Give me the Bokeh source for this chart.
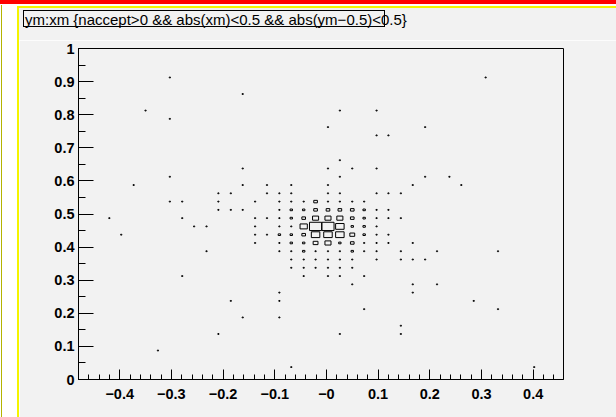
import numpy as np
from bokeh.plotting import figure
from bokeh.layouts import column
from bokeh.models import FixedTicker, ColumnDataSource, Range1d, Div
from bokeh.embed import file_html
from bokeh.resources import INLINE
import html

# ---------------- data (bin centres of the 2D histogram and their contents) ----------------
title_text = "ym:xm {naccept>0 && abs(xm)<0.5 && abs(ym\u22120.5)<0.5}"

xm = [
    -0.303, 0.308,                                   # ym 0.9125
    -0.162,                                          # 0.8625
    -0.350, 0.026, 0.097,                            # 0.8125
    -0.303,                                          # 0.7875
    0.003, 0.191,                                    # 0.7625
    0.097, 0.120,                                    # 0.7375
    0.026,                                           # 0.6625
    -0.162, 0.003, 0.050, 0.097,                     # 0.6375
    -0.303, 0.026, 0.191, 0.238,                     # 0.6125
    -0.373, -0.162, -0.115, -0.068, 0.003, 0.167, 0.261,               # 0.5875
    -0.209, -0.185, -0.115, -0.091, -0.068, 0.003, 0.026, 0.097, 0.120, 0.144,  # 0.5625
    -0.303, -0.279, -0.209, -0.138, -0.091, -0.068, -0.044, -0.021, 0.003, 0.026, 0.050, 0.073,  # 0.5375
    -0.209, -0.185, -0.162, -0.091, -0.068, -0.044, -0.021, 0.003, 0.026, 0.050, 0.073, 0.097, 0.120,  # 0.5125
    -0.420, -0.279, -0.138, -0.115, -0.091, -0.068, -0.044, -0.021, 0.003, 0.026, 0.050, 0.073, 0.097, 0.120, 0.144,  # 0.4875
    -0.256, -0.232, -0.138, -0.091, -0.068, -0.044, -0.021, 0.003, 0.026, 0.050, 0.073, 0.097,  # 0.4625
    -0.397, -0.138, -0.115, -0.091, -0.068, -0.044, -0.021, 0.003, 0.026, 0.050, 0.073, 0.097, 0.120,  # 0.4375
    -0.138, -0.091, -0.068, -0.044, -0.021, 0.003, 0.026, 0.050, 0.073, 0.097, 0.120, 0.167,  # 0.4125
    -0.232, -0.091, -0.068, -0.044, -0.021, 0.003, 0.026, 0.050, 0.073, 0.097, 0.144, 0.214, 0.332,  # 0.3875
    -0.068, -0.044, -0.021, 0.003, 0.026, 0.050, 0.097, 0.144, 0.167, 0.191,  # 0.3625
    -0.068, -0.044, -0.021, 0.003, 0.026, 0.050,    # 0.3375
    -0.279, -0.044, 0.003, 0.026, 0.073,             # 0.3125
    0.050, 0.167, 0.214,                             # 0.2875
    -0.091, 0.167,                                   # 0.2625
    -0.185, -0.091, 0.285,                           # 0.2375
    0.073, 0.332,                                    # 0.2125
    -0.162, -0.091,                                  # 0.1875
    0.144,                                           # 0.1625
    -0.209, 0.026, 0.144,                            # 0.1375
    -0.326,                                          # 0.0875
    -0.068, 0.402,                                   # 0.0375
]

ym = (
    [0.9125] * 2 + [0.8625] * 1 + [0.8125] * 3 + [0.7875] * 1 + [0.7625] * 2 +
    [0.7375] * 2 + [0.6625] * 1 + [0.6375] * 4 + [0.6125] * 4 + [0.5875] * 7 +
    [0.5625] * 10 + [0.5375] * 12 + [0.5125] * 13 + [0.4875] * 15 + [0.4625] * 12 +
    [0.4375] * 13 + [0.4125] * 12 + [0.3875] * 13 + [0.3625] * 10 + [0.3375] * 6 +
    [0.3125] * 5 + [0.2875] * 3 + [0.2625] * 2 + [0.2375] * 3 + [0.2125] * 2 +
    [0.1875] * 2 + [0.1625] * 1 + [0.1375] * 3 + [0.0875] * 1 + [0.0375] * 2
)

counts = (
    [1] * 2 + [1] * 1 + [1] * 3 + [1] * 1 + [1] * 2 +
    [1] * 2 + [1] * 1 + [1] * 4 + [1] * 4 + [1] * 7 +
    [1] * 10 +
    [1, 1, 1, 1, 1, 1, 1, 3, 1, 1, 1, 1] +                     # 0.5375
    [1, 1, 1, 1, 2, 2, 3, 3, 3, 3, 2, 1, 1] +                  # 0.5125
    [1, 1, 1, 1, 1, 2, 3, 5, 5, 5, 3, 2, 1, 1, 1] +            # 0.4875
    [1, 1, 1, 1, 1, 6, 10, 10, 7, 2, 2, 1] +                   # 0.4625
    [1, 1, 1, 2, 2, 3, 7, 7, 7, 4, 2, 1, 1] +                  # 0.4375
    [1, 1, 2, 2, 4, 5, 2, 3, 1, 1, 1, 1] +                     # 0.4125
    [1, 1, 1, 2, 1, 1, 1, 2, 1, 1, 1, 1, 1] +                  # 0.3875
    [1] * 10 + [1] * 6 + [1] * 5 + [1] * 3 + [1] * 2 + [1] * 3 + [1] * 2 +
    [1] * 2 + [1] * 1 + [1] * 3 + [1] * 1 + [1] * 2
)

x_ticks = [-0.4, -0.3, -0.2, -0.1, 0.0, 0.1, 0.2, 0.3, 0.4]
x_tick_labels = ["\u22120.4", "\u22120.3", "\u22120.2", "\u22120.1", "\u22120", "0.1", "0.2", "0.3", "0.4"]
y_ticks = [0.0, 0.1, 0.2, 0.3, 0.4, 0.5, 0.6, 0.7, 0.8, 0.9, 1.0]
y_tick_labels = ["0", "0.1", "0.2", "0.3", "0.4", "0.5", "0.6", "0.7", "0.8", "0.9", "1"]

# ---------------- figure ----------------
x_lo, x_hi = -0.4797, 0.4587
y_lo, y_hi = 0.0, 1.0
n_bins = 40
BG = "#f2f2f2"
FONT = "Liberation Sans"

p = figure(width=597, height=377, x_range=Range1d(x_lo, x_hi), y_range=Range1d(y_lo, y_hi),
           output_backend="svg", toolbar_location=None,
           min_border_left=59, min_border_right=53, min_border_top=8, min_border_bottom=38,
           background_fill_color=BG, border_fill_color=BG, margin=(0, 0, 0, 19))
p.grid.visible = False
p.outline_line_color = "black"
p.outline_line_width = 1

# title box (ROOT style: text runs past the right edge of its frame)
title_html = (
    "<div style=\"margin:2px 0 0 4px; width:362px; height:17px; border:1px solid #000; "
    "padding-left:1px; white-space:nowrap; overflow:visible; font-family:'Liberation Sans'; "
    "font-size:15px; line-height:17px; color:#000;\">" + html.escape(title_text) + "</div>"
)
title_div = Div(text=title_html, width=597, height=32, margin=(8, 0, 0, 19),
                styles={"background-color": BG, "overflow": "visible"})

# boxes: side proportional to bin content
binw = (x_hi - x_lo) / n_bins
binh = (y_hi - y_lo) / n_bins
cnt = np.array(counts, dtype=float)
frac = cnt / cnt.max()
src = ColumnDataSource(dict(x=xm, y=ym, w=frac * binw, h=frac * binh))
p.rect(x="x", y="y", width="w", height="h", source=src,
       fill_color=None, line_color="black", line_width=1)

# axes
xminor = [round(v, 2) for v in np.arange(-0.48, 0.4601, 0.02)]
yminor = [round(v, 2) for v in np.arange(0.0, 1.0001, 0.05)]
p.xaxis.ticker = FixedTicker(ticks=x_ticks, minor_ticks=xminor)
p.yaxis.ticker = FixedTicker(ticks=y_ticks, minor_ticks=yminor)
p.xaxis.major_label_overrides = {t: l for t, l in zip(x_ticks, x_tick_labels)}
p.yaxis.major_label_overrides = {t: l for t, l in zip(y_ticks, y_tick_labels)}

for ax in (p.xaxis[0], p.yaxis[0]):
    ax.axis_line_color = "black"
    ax.major_tick_line_color = "black"
    ax.minor_tick_line_color = "black"
    ax.major_tick_out = 0
    ax.minor_tick_out = 0
    ax.major_label_text_font = FONT
    ax.major_label_text_font_style = "bold"
    ax.major_label_text_font_size = "14.5px"
    ax.major_label_text_color = "black"

p.xaxis.major_tick_in = 10
p.xaxis.minor_tick_in = 5
p.xaxis.major_label_standoff = 9
p.yaxis.major_tick_in = 15
p.yaxis.minor_tick_in = 7
p.yaxis.major_label_standoff = 4

# canvas decoration around the pad (red bar, yellow/olive edges), painted behind the figure
deco = {
    "background-color": "white",
    "background-image": ("linear-gradient(#ff0000,#ff0000), linear-gradient(#b4b400,#b4b400), "
                         "linear-gradient(#f4f400,#f4f400), linear-gradient(#f4f400,#f4f400)"),
    "background-size": "100% 4px, 1px 100%, 2px 100%, 100% 2px",
    "background-position": "0px 0px, 1px 5px, 17px 6px, 17px 6px",
    "background-repeat": "no-repeat",
}
page = column(title_div, p, width=616, height=417, margin=0, spacing=0, styles=deco)

open("out.html", "w").write(file_html(page, INLINE))
